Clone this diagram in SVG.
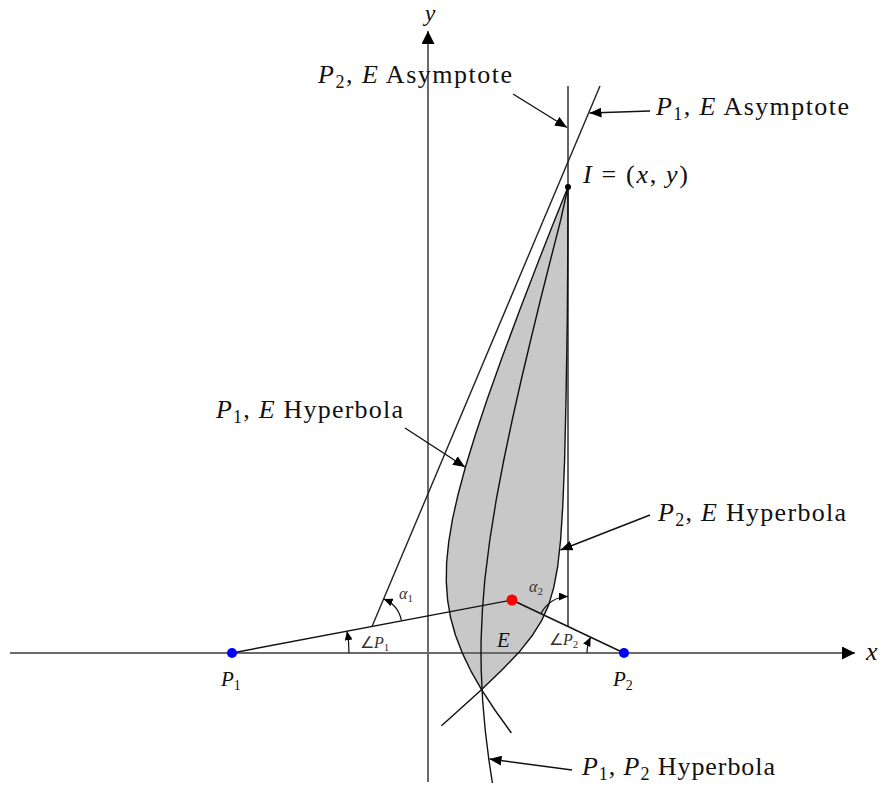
<svg xmlns="http://www.w3.org/2000/svg" width="885" height="790" viewBox="0 0 885 790">
<style>
  .axis{stroke:#6a6a6a;stroke-width:2;fill:none}
  .curve{stroke:#111;stroke-width:1.4;fill:none;stroke-linejoin:round}
  .asym{stroke:#222;stroke-width:1.4;fill:none}
  .conn{stroke:#111;stroke-width:1.4;fill:none}
  .ang{stroke:#111;stroke-width:1.2;fill:none}
  .shade{fill:#c8c8c8;stroke:none}
  .lbl{font-family:"Liberation Serif","Times New Roman",serif;font-size:26px;fill:#111}
  .pl{font-family:"Liberation Serif","Times New Roman",serif;font-size:21px;fill:#111}
  .sm{font-family:"Liberation Serif","Times New Roman",serif;font-size:16px;fill:#333}
  .it{font-style:italic}
  .sub{font-size:18px}
  .subp{font-size:14px}
  .subs{font-size:11px}
</style>
<defs>
  <marker id="ah" markerUnits="userSpaceOnUse" viewBox="0 0 12 10" refX="12" refY="5" markerWidth="12" markerHeight="10" orient="auto"><path d="M0,0 L12,5 L0,10 z" fill="#000"/></marker>
  <marker id="ahs" markerUnits="userSpaceOnUse" viewBox="0 0 9 8" refX="9" refY="4" markerWidth="9" markerHeight="8" orient="auto"><path d="M0,0 L9,4 L0,8 z" fill="#000"/></marker>
  <marker id="axh" markerUnits="userSpaceOnUse" viewBox="0 0 13 13" refX="13" refY="6.5" markerWidth="13" markerHeight="13" orient="auto"><path d="M0,0 L13,6.5 L0,13 z" fill="#000"/></marker>
</defs>

<g id="shaded-region">
  <path class="shade" d="M568,187 L552.5,225.5 L539.9,257.6 L519.1,311.7 L501.7,358.6 L487.1,399.5 L475.2,435.3 L465.5,466.8 L458,494.7 L452.4,519.6 L448.7,542.1 L446.6,562.8 L446.3,581.9 L447.6,600.1 L450.6,617.7 L455.4,635 L462.1,652.6 L470.8,670.8 L481.5,690 L503.2,668.8 L520.1,650.9 L532.5,635.2 L541.8,620.3 L548.7,604.9 L553.8,587.4 L557.7,566.5 L560.6,540 L562.8,505.8 L564.6,460.6 L566,400.3 L567.3,319.5 L567.8,250.8 Z"/>
</g>

<g id="axes">
  <line class="axis" x1="10" y1="653" x2="855" y2="653" marker-end="url(#axh)"/>
  <line class="axis" x1="428" y1="782" x2="428" y2="31" marker-end="url(#axh)"/>
</g>

<g id="asymptotes">
  <line id="p1e-asymptote" class="asym" x1="372" y1="626.5" x2="600" y2="86"/>
  <line id="p2e-asymptote" class="asym" x1="568" y1="626.5" x2="568" y2="86"/>
</g>

<g id="hyperbolas">
  <path id="p1e-hyperbola" class="curve" d="M568,187 L552.5,225.5 L539.9,257.6 L519.1,311.7 L501.7,358.6 L487.1,399.5 L475.2,435.3 L465.5,466.8 L458,494.7 L452.4,519.6 L448.7,542.1 L446.6,562.8 L446.3,581.9 L447.6,600.1 L450.6,617.7 L455.4,635 L462.1,652.6 L470.8,670.8 L481.7,689.9 L495.2,710.5 L511.4,733"/>
  <path id="p2e-hyperbola" class="curve" d="M568,187 L567.8,250.8 L567.3,319.5 L566,400.3 L564.6,460.6 L562.8,505.8 L560.6,540 L557.7,566.5 L553.8,587.4 L548.7,604.9 L541.8,620.3 L532.5,635.2 L520.1,650.9 L503.2,668.8 L480.6,690.6 L449.9,718.2 L441.4,725.7"/>
  <path id="p1p2-hyperbola" class="curve" d="M568,187 L560.7,220 L550.5,260 L540.4,300 L530.7,340 L521.2,380 L512.2,420 L503.8,460 L496.2,500 L489.8,540 L484.8,580 L482.4,610 L481.1,640 L481,653 L481.2,670 L482.6,700 L485.2,730 L488.9,760 L492.4,783"/>
</g>

<g id="segments">
  <line class="curve" x1="232" y1="653" x2="512" y2="600"/>
  <line class="curve" x1="512" y1="600" x2="624" y2="653"/>
</g>

<g id="angles">
  <path class="ang" d="M401.5,620.9 A30,30 0 0 0 383.7,598.9" marker-end="url(#ahs)"/>
  <path class="ang" d="M540.9,613.7 A30,30 0 0 1 568,596.5" marker-end="url(#ahs)"/>
  <path class="ang" d="M349,653 A117,117 0 0 0 347,631.2" marker-end="url(#ahs)"/>
  <path class="ang" d="M587,653 A37,37 0 0 1 590.6,637.2" marker-end="url(#ahs)"/>
  <text class="sm" x="399" y="599"><tspan class="it">α</tspan><tspan class="subs" dy="3">1</tspan></text>
  <text class="sm" x="529" y="592"><tspan class="it">α</tspan><tspan class="subs" dy="3">2</tspan></text>
  <text class="sm" x="360" y="648">∠<tspan class="it">P</tspan><tspan class="subs" dy="3">1</tspan></text>
  <text class="sm" x="549" y="645">∠<tspan class="it">P</tspan><tspan class="subs" dy="3">2</tspan></text>
</g>

<g id="connectors">
  <line class="conn" x1="513" y1="94" x2="567" y2="127.5" marker-end="url(#ah)"/>
  <line class="conn" x1="650" y1="111" x2="589.5" y2="113" marker-end="url(#ah)"/>
  <line class="conn" x1="405" y1="428" x2="465" y2="467" marker-end="url(#ah)"/>
  <line class="conn" x1="650" y1="515" x2="560.5" y2="550" marker-end="url(#ah)"/>
  <line class="conn" x1="572" y1="770" x2="489.5" y2="759" marker-end="url(#ah)"/>
</g>

<g id="node-P1">
  <circle cx="232" cy="653" r="5" fill="#0000ff"/>
  <text class="pl" x="221" y="686"><tspan class="it">P</tspan><tspan class="subp" dy="4">1</tspan></text>
</g>
<g id="node-P2">
  <circle cx="624" cy="653" r="5" fill="#0000ff"/>
  <text class="pl" x="613" y="686"><tspan class="it">P</tspan><tspan class="subp" dy="4">2</tspan></text>
</g>
<g id="node-E">
  <circle cx="512" cy="600" r="5.5" fill="#ff0000"/>
  <text class="pl it" x="497" y="647">E</text>
</g>
<g id="node-I">
  <circle cx="568" cy="187" r="3" fill="#000"/>
  <text class="lbl" x="583" y="183" textLength="105" lengthAdjust="spacing"><tspan class="it">I</tspan> = (<tspan class="it">x</tspan>, <tspan class="it">y</tspan>)</text>
</g>

<g id="labels">
  <text class="lbl it" x="430" y="21" text-anchor="middle" style="font-size:24px">y</text>
  <text class="lbl it" x="866" y="660">x</text>
  <text class="lbl" x="318" y="83" textLength="194" lengthAdjust="spacing"><tspan class="it">P</tspan><tspan class="sub" dy="5">2</tspan><tspan dy="-5">, </tspan><tspan class="it">E</tspan> Asymptote</text>
  <text class="lbl" x="656" y="115" textLength="193" lengthAdjust="spacing"><tspan class="it">P</tspan><tspan class="sub" dy="5">1</tspan><tspan dy="-5">, </tspan><tspan class="it">E</tspan> Asymptote</text>
  <text class="lbl" x="216" y="418" textLength="187" lengthAdjust="spacing"><tspan class="it">P</tspan><tspan class="sub" dy="5">1</tspan><tspan dy="-5">, </tspan><tspan class="it">E</tspan> Hyperbola</text>
  <text class="lbl" x="658" y="521" textLength="188" lengthAdjust="spacing"><tspan class="it">P</tspan><tspan class="sub" dy="5">2</tspan><tspan dy="-5">, </tspan><tspan class="it">E</tspan> Hyperbola</text>
  <text class="lbl" x="582" y="775" textLength="193" lengthAdjust="spacing"><tspan class="it">P</tspan><tspan class="sub" dy="5">1</tspan><tspan dy="-5">, </tspan><tspan class="it">P</tspan><tspan class="sub" dy="5">2</tspan><tspan dy="-5"> Hyperbola</tspan></text>
</g>
</svg>
